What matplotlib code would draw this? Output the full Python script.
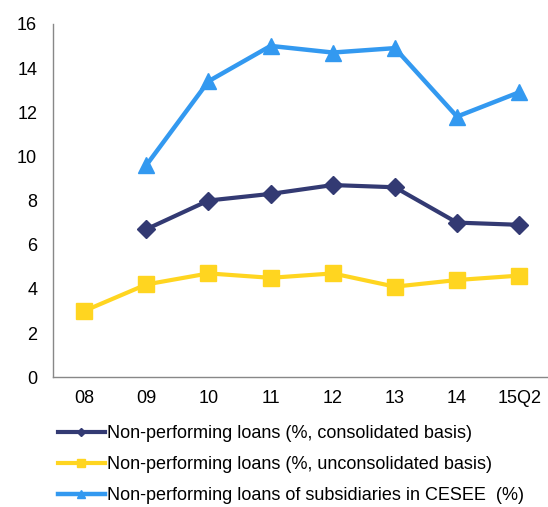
import matplotlib.pyplot as plt

plt.rcParams['font.family'] = ['Liberation Sans', 'DejaVu Sans']

years = ["08", "09", "10", "11", "12", "13", "14", "15Q2"]
consolidated = [None, 6.7, 8.0, 8.3, 8.7, 8.6, 7.0, 6.9]
unconsolidated = [3.0, 4.2, 4.7, 4.5, 4.7, 4.1, 4.4, 4.6]
cesee = [None, 9.6, 13.4, 15.0, 14.7, 14.9, 11.8, 12.9]

labels = [
    "Non-performing loans (%, consolidated basis)",
    "Non-performing loans (%, unconsolidated basis)",
    "Non-performing loans of subsidiaries in CESEE  (%)",
]

fig = plt.figure(figsize=(5.48, 5.07), dpi=100)
ax = fig.add_axes([0.097, 0.256, 0.907, 0.697])

x = list(range(len(years)))

def pts(vals):
    xs = [i for i, v in zip(x, vals) if v is not None]
    ys = [v for v in vals if v is not None]
    return xs, ys

l1, = ax.plot(*pts(consolidated), color="#333a73", lw=3, marker="D", markersize=9, label=labels[0])
l2, = ax.plot(*pts(unconsolidated), color="#ffd520", lw=3, marker="s", markersize=11, label=labels[1])
l3, = ax.plot(*pts(cesee), color="#3399f0", lw=3.2, marker="^", markersize=12, label=labels[2])

ax.set_xlim(-0.5, 7.5)
ax.set_ylim(0, 16)
ax.set_yticks(range(0, 17, 2))
ax.set_xticks(x)
ax.set_xticklabels(years)
ax.tick_params(length=0, labelsize=13, colors="#000000")
ax.tick_params(axis="x", pad=9)
ax.tick_params(axis="y", pad=11.5)
for s in ["top", "right"]:
    ax.spines[s].set_visible(False)
for s in ["left", "bottom"]:
    ax.spines[s].set_color("#888888")
    ax.spines[s].set_linewidth(1)

fig.legend(handles=[l1, l2, l3], loc="upper left", bbox_to_anchor=(0.092, 0.175),
           frameon=False, fontsize=13, handlelength=2.6, handletextpad=0.15,
           labelspacing=0.77, markerscale=0.5, borderaxespad=0)

fig.savefig("out.png", dpi=100)
